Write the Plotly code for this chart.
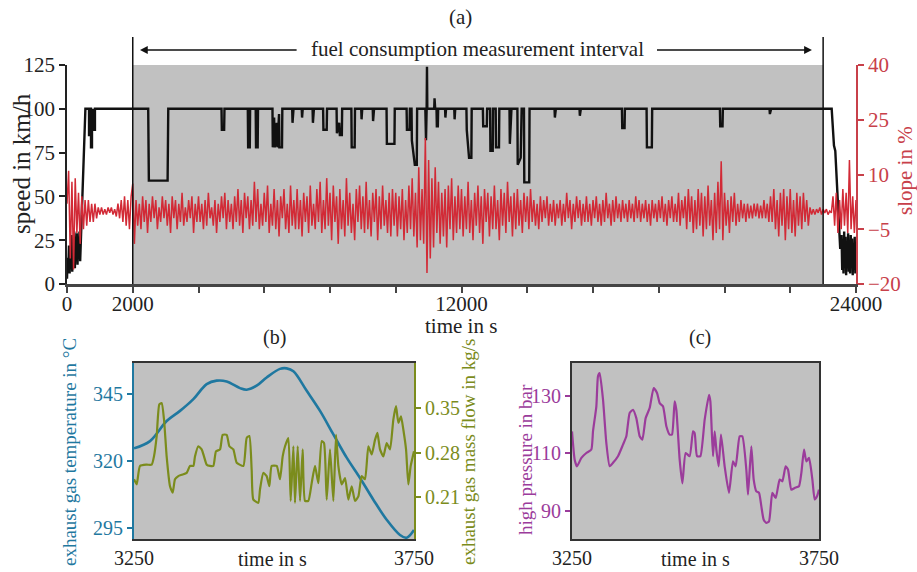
import plotly.graph_objects as go

W, H = 917, 572
FONT = "Liberation Serif, Times New Roman, DejaVu Serif, serif"

# ---------------- panel (a) data ----------------
speed_t = [
    0, 20, 40, 60, 80, 100, 120, 140, 160, 180, 200, 220, 240, 260, 280, 300, 320, 340, 360, 380, 400, 420,
    560, 670, 670, 700, 700, 730, 730, 760, 760, 800, 800, 820, 820, 850, 850,
    2470, 2490, 3060, 3080,
    4700, 4710, 4780, 4790,
    5500, 5510, 5560, 5570, 5740, 5750, 5800, 5810,
    6250, 6260, 6300, 6320, 6380, 6400, 6450, 6460, 6540, 6550,
    6850, 6860, 6890, 7140, 7150, 7170, 7470, 7480, 7510,
    7790, 7800, 7900, 7910,
    8200, 8210, 8280, 8300, 8360, 8370,
    8650, 8660, 8750, 8760,
    8950, 8960, 8980, 9300, 9310, 9340,
    9720, 9730, 9960, 9970,
    10330, 10340, 10420, 10430,
    10480, 10490, 10540, 10580, 10640, 10650,
    10900, 10920, 10940, 10950, 10960,
    11170, 11180, 11200, 11240, 11250, 11280, 11290,
    11500, 11510, 11530, 11780, 11790, 11810,
    12150, 12160, 12200, 12230, 12300, 12310,
    12650, 12660, 12770, 12780,
    12870, 12880, 12950, 12960, 13040, 13050, 13140, 13150,
    13460, 13470, 13520, 13700, 13710, 13800, 13830, 13900, 13910, 14060, 14070,
    14830, 14840, 14870, 15590, 15600, 15630,
    16880, 16890, 16960, 16970,
    17630, 17640, 17790, 17800,
    19860, 19870, 19940, 19950,
    21370, 21380, 21420,
    23260, 23330, 23370, 23420, 23480, 23520,
    23560, 23580, 23600, 23620, 23640, 23660, 23680, 23700, 23720, 23740, 23760, 23780,
    23800, 23820, 23840, 23860, 23880, 23900, 23920, 23940, 23960, 23980, 24000,
]
speed_kmh = [
    3, 15, 8, 22, 6, 18, 10, 28, 7, 25, 12, 30, 9, 27, 14, 29, 11, 26, 16, 30, 13, 24,
    100, 100, 85, 85, 100, 100, 78, 78, 88, 88, 100, 100, 88, 88, 100,
    100, 59, 59, 100,
    100, 88, 88, 100,
    100, 78, 78, 100, 100, 78, 78, 100,
    100, 78, 95, 78, 92, 78, 97, 78, 78, 100,
    100, 92, 100, 100, 95, 100, 100, 92, 100,
    100, 88, 88, 100,
    100, 86, 92, 85, 85, 100,
    100, 78, 78, 100,
    100, 94, 100, 100, 93, 100,
    100, 80, 80, 100,
    100, 88, 88, 100,
    100, 82, 75, 68, 68, 100,
    100, 82, 100, 124, 100,
    100, 106, 100, 100, 90, 90, 100,
    100, 95, 100, 100, 94, 100,
    100, 88, 80, 72, 72, 100,
    100, 90, 90, 100,
    100, 76, 76, 100, 100, 78, 78, 100,
    100, 80, 100, 100, 68, 72, 100, 100, 58, 58, 100,
    100, 95, 100, 100, 96, 100,
    100, 89, 89, 100,
    100, 78, 78, 100,
    100, 90, 90, 100,
    100, 97, 100,
    100, 79, 76, 59, 40, 20,
    28, 8, 25, 6, 30, 10, 27, 5, 22, 9, 29, 7,
    24, 6, 28, 11, 26, 5, 23, 8, 27, 6, 20,
]

slope_step_s = 50
slope_pct = [
    2, 11, -13, 8, -16, 9, -6, 5, -9, 4, -5, 3, -4, 3, -3, 2, -3, 2, -2, 1,
    -1, 1, -1, 0.5, -1, 1, -0.5, 1, -1, 0.5, -1.5, 2, -2, 3, -3, 4, -4, 3, -5, 4,
    7.5, -9, 3, -4, 2, -5, 4, -3, 3, -6, 2, -3, 4, -2, 3, -5, 1, -3, 4, -2,
    3, -4, 2, -6, 4, -2, 3, -5, 2, -3, 5, -4, 1, -3, 3, -2, 4, -6, 2, -3,
    4, -3, 2, -5, 3, -4, 5, -2, 1, -4, 3, -6, 2, -3, 4, -2, 5, -5, 3, -3,
    2, -5, 4, -3, 6, -4, 3, -6, 5, -2, 4, -5, 3, -4, 8, -3, 6, -5, 2, -4,
    5, -3, 7, -6, 2, -4, 6, -5, 3, -7, 4, -2, 6, -5, 2, -6, 7, -4, 3, -5,
    6, -5, 3, -7, 5, -3, 4, -6, 7, -4, 2, -5, 6, -3, 8, -6, 3, -5, 9, -4,
    5, -8, 7, -3, 4, -9, 6, -5, 3, -7, 9, -4, 5, -6, 2, -8, 6, -3, 7, -5,
    4, -6, 8, -5, 3, -7, 5, -3, 6, -8, 4, -5, 7, -4, 3, -6, 5, -7, 6, -4,
    5, -7, 4, -5, 6, -8, 3, -6, 7, -5, 9, -7, 5, -10, 12, -8, 6, -9, 20, -17,
    14, -13, 9, -10, 12, -6, 8, -9, 5, -7, 6, -10, 7, -5, 9, -8, 4, -6, 7, -5,
    6, -7, 4, -5, 8, -6, 3, -8, 5, -4, 7, -6, 4, -9, 6, -3, 5, -7, 4, -5,
    7, -5, 3, -8, 6, -4, 5, -6, 8, -3, 4, -7, 5, -5, 6, -4, 3, -6, 5, -3,
    4, -5, 6, -3, 3, -4, 2, -5, 4, -3, 3, -2, 4, -4, 2, -3, 3, -4, 2, -2,
    3, -4, 2, -3, 5, -2, 3, -5, 2, -3, 4, -2, 3, -4, 2, -3, 4, -3, 2, -4,
    3, -2, 4, -3, 2, -4, 3, -3, 5, -2, 2, -4, 3, -3, 4, -2, 2, -3, 3, -2,
    2, -3, 3, -2, 2, -3, 4, -2, 3, -3, 2, -2, 3, -3, 2, -4, 3, -2, 2, -3,
    3, -2, 4, -3, 2, -4, 3, -2, 4, -3, 2, -3, 5, -4, 3, -2, 4, -5, 6, -3,
    4, -6, 3, -5, 6, -4, 5, -7, 4, -5, 7, -4, 3, -8, 5, -6, 8, -5, 13.6, -8,
    5, -4, 3, -6, 4, -3, 5, -4, 2, -3, 3, -2, 2, -3, 2, -2, 1.5, -2, 2, -1.5,
    2, -2, 1.5, -2, 3, -2, 2, -3, 4, -3, 6, -5, 3, -7, 5, -4, 6, -8, 4, -5,
    6, -6, 3, -7, 5, -4, 4, -5, 5, -3, 3, -4, 1, -1, 0.5, -1, 0.5, -0.5, 1, -1,
    0.5, -0.5, 0.5, -1, 0, -0.5, 4, -4, 5, -6, 3, -5, 6, -4, 5, -6, 14, -5, 4, -6,
    3,
]
slope_t = [i * slope_step_s for i in range(len(slope_pct))]

x_ticks_a = [0, 2000, 4000, 6000, 8000, 10000, 12000, 14000, 16000, 18000, 20000, 22000, 24000]
x_ticktext_a = ["0", "2000", "", "", "", "", "12000", "", "", "", "", "", "24000"]
interval_start, interval_end = 2000, 23000

# ---------------- panel (b) data ----------------
temp_t = [3250, 3278.6, 3308.3, 3332.2, 3356, 3379.8, 3397.6, 3415.5, 3439.3, 3451.2, 3469,
          3486.9, 3510.7, 3522.6, 3534.6, 3558.4, 3582.2, 3606, 3629.8, 3653.6, 3677.4,
          3701.2, 3725, 3736.9, 3750]
temp_c = [324.8, 327.5, 335.0, 338.8, 343.2, 348.8, 350.1, 349.8, 347.3, 346.7, 348.2,
          351.3, 354.5, 354.7, 353.6, 346.3, 338.8, 330.0, 321.3, 313.7, 305.6,
          298.1, 292.4, 291.4, 294.3]

flow_t = [3250, 3254.8, 3260.7, 3272.6, 3281.6, 3285.7, 3290.5, 3295.2, 3299.4, 3303.6,
          3308.3, 3314.3, 3319.1, 3323.2, 3329.2, 3335.1, 3344.1, 3350, 3356, 3358.9,
          3364.9, 3370.8, 3375, 3379.8, 3385.7, 3391.7, 3396.4, 3403.6, 3408.3, 3415.5,
          3420.3, 3427.4, 3433.4, 3445.3, 3451.2, 3456, 3460.1, 3463.1, 3472, 3475,
          3481, 3486.9, 3491.7, 3495.9, 3504.8, 3510.7, 3515.5, 3519.7, 3525.6, 3529.8,
          3534.6, 3537.5, 3542.3, 3546.5, 3551.2, 3555.4, 3561.3, 3567.3, 3573.2, 3579.2,
          3585.2, 3589.3, 3594.1, 3600, 3606, 3610.8, 3614.9, 3620.9, 3626.8, 3632.8,
          3638.7, 3644.7, 3650.6, 3656.6, 3662.5, 3668.5, 3674.4, 3680.4, 3684.6, 3689.3,
          3695.3, 3701.2, 3707.2, 3713.1, 3717.9, 3722.1, 3726.8, 3731, 3735.8, 3739.9,
          3744.1, 3750]
flow_kgs = [0.238, 0.230, 0.259, 0.261, 0.261, 0.274, 0.306, 0.356, 0.358, 0.332,
            0.274, 0.227, 0.217, 0.238, 0.243, 0.245, 0.248, 0.259, 0.259, 0.274,
            0.290, 0.285, 0.274, 0.261, 0.259, 0.259, 0.282, 0.285, 0.308, 0.308,
            0.290, 0.285, 0.264, 0.259, 0.303, 0.306, 0.253, 0.206, 0.201, 0.222,
            0.248, 0.243, 0.227, 0.259, 0.259, 0.238, 0.274, 0.290, 0.303, 0.204,
            0.290, 0.201, 0.290, 0.204, 0.285, 0.204, 0.204, 0.232, 0.259, 0.232,
            0.298, 0.295, 0.206, 0.285, 0.204, 0.308, 0.259, 0.230, 0.240, 0.206,
            0.227, 0.204, 0.211, 0.243, 0.238, 0.290, 0.277, 0.300, 0.311, 0.285,
            0.274, 0.295, 0.285, 0.332, 0.353, 0.327, 0.337, 0.316, 0.285, 0.230,
            0.259, 0.282]

# ---------------- panel (c) data ----------------
press_t = [3250, 3255.4, 3260.1, 3269, 3279, 3289.1, 3292.5, 3299.3, 3302.6, 3306,
           3312.8, 3319.5, 3326.3, 3333, 3343.1, 3353.2, 3360, 3366.7, 3373.5, 3380.2,
           3387, 3392.4, 3399.1, 3407.2, 3415.3, 3422.1, 3427.5, 3434.2, 3441, 3447.7,
           3452.4, 3457.8, 3461.2, 3468, 3473.4, 3480.1, 3488.2, 3495, 3498.3, 3503.1,
           3509.8, 3518.6, 3527.4, 3530.1, 3535.4, 3538.8, 3542.2, 3546.9, 3551.6, 3559,
           3567.8, 3575.9, 3581.3, 3589.4, 3594.8, 3602.9, 3606.3, 3613, 3617.8, 3623.2,
           3628.6, 3633.3, 3638, 3643.4, 3648.8, 3655.5, 3662.3, 3670.4, 3675.8, 3682.5,
           3687.3, 3694, 3700.8, 3709.5, 3714.3, 3719.7, 3724.4, 3729.8, 3736.6, 3741.3,
           3746, 3750]
press_bar = [117.6, 107.8, 105.5, 108.4, 110.1, 111.3, 117.6, 126.3, 136.7, 137.8,
             128.6, 113.6, 105.5, 106.7, 109.0, 113.0, 115.9, 124.0, 125.1, 122.2,
             115.9, 114.7, 122.2, 125.7, 132.6, 130.9, 127.4, 126.3, 119.4, 116.5,
             116.5, 128.0, 125.1, 107.7, 99.6, 110.1, 109.0, 117.6, 117.0, 109.0,
             109.0, 121.7, 130.3, 128.0, 109.0, 117.6, 111.3, 105.5, 116.5, 105.5,
             96.3, 107.2, 105.5, 115.9, 115.9, 104.3, 95.7, 112.4, 100.9, 96.8,
             96.3, 91.6, 87.0, 85.9, 86.4, 96.3, 94.5, 100.9, 100.3, 105.5,
             104.3, 97.4, 98.0, 98.6, 103.2, 111.3, 107.2, 108.4, 100.9, 94.0,
             95.1, 97.4]

# ---------------- colours ----------------
BLACK = "#111111"
RED = "#d22a36"
RED_AX = "#c8404a"
TEAL = "#1f78a0"
OLIVE = "#7b8c1c"
PURPLE = "#9b3c9b"
GRAY = "#c1c1c1"
AXGRAY = "#444444"


def px_x(p):
    return p / W


def px_y(p):
    return 1 - p / H


fig = go.Figure()

fig.add_trace(go.Scatter(x=speed_t, y=speed_kmh, mode="lines", xaxis="x", yaxis="y",
                         line=dict(color=BLACK, width=2.4), showlegend=False))
fig.add_trace(go.Scatter(x=slope_t, y=slope_pct, mode="lines", xaxis="x", yaxis="y2",
                         line=dict(color=RED, width=1.5), showlegend=False))

fig.add_trace(go.Scatter(x=temp_t, y=temp_c, mode="lines", xaxis="x2", yaxis="y3",
                         line=dict(color=TEAL, width=2.6, shape="spline", smoothing=1.0),
                         showlegend=False))
fig.add_trace(go.Scatter(x=flow_t, y=flow_kgs, mode="lines", xaxis="x2", yaxis="y4",
                         line=dict(color=OLIVE, width=2.2, shape="spline", smoothing=0.5),
                         showlegend=False))

fig.add_trace(go.Scatter(x=press_t, y=press_bar, mode="lines", xaxis="x3", yaxis="y5",
                         line=dict(color=PURPLE, width=2.2, shape="spline", smoothing=0.5),
                         showlegend=False))

dom_ax = [px_x(67), px_x(856)]
dom_ay = [px_y(284), px_y(65)]
dom_bx = [px_x(134), px_x(414)]
dom_cx = [px_x(572), px_x(819)]
dom_by = [px_y(539), px_y(363)]

tick_a = dict(family=FONT, size=21, color="#222222")
tick_b = dict(family=FONT, size=20, color="#222222")

common = dict(showgrid=False, zeroline=False, automargin=False)

fig.update_layout(
    template="none",
    width=W, height=H,
    margin=dict(l=0, r=0, t=0, b=0, autoexpand=False),
    paper_bgcolor="white", plot_bgcolor="rgba(0,0,0,0)",
    font=dict(family=FONT, size=20, color="#222222"),
    showlegend=False,
    xaxis=dict(domain=dom_ax, range=[0, 24000], anchor="y",
               tickvals=x_ticks_a, ticktext=x_ticktext_a, tickfont=tick_a,
               ticks="outside", ticklen=6, tickwidth=1.5, tickcolor=AXGRAY,
               ticklabelstandoff=-7,
               showline=True, linecolor=AXGRAY, linewidth=3, **common),
    yaxis=dict(domain=dom_ay, range=[0, 125], anchor="x",
               tickvals=[0, 25, 50, 75, 100, 125], tickfont=tick_a,
               ticks="outside", ticklen=6, tickwidth=1.5, tickcolor="#222222",
               showline=True, linecolor="#222222", linewidth=1.5, **common),
    yaxis2=dict(range=[-20, 40], overlaying="y", side="right", anchor="x",
                tickvals=[-20, -5, 10, 25, 40], tickfont=dict(family=FONT, size=21, color=RED_AX),
                ticks="outside", ticklen=6, tickwidth=1.5, tickcolor=RED_AX,
                showline=True, linecolor=RED_AX, linewidth=1.5, **common),
    xaxis2=dict(domain=dom_bx, range=[3250, 3750], anchor="y3",
                tickvals=[3250, 3750], tickfont=tick_b, ticks="",
                showline=True, mirror=True, linecolor="#333333", linewidth=2, **common),
    yaxis3=dict(domain=dom_by, range=[290.9, 356.7], anchor="x2",
                tickvals=[295, 320, 345], tickfont=dict(family=FONT, size=20, color=TEAL),
                ticks="outside", ticklen=5, tickwidth=1.5, tickcolor=TEAL,
                showline=True, linecolor=TEAL, linewidth=2, **common),
    yaxis4=dict(range=[0.144, 0.421], overlaying="y3", side="right", anchor="x2",
                tickvals=[0.21, 0.28, 0.35], ticktext=["0.21", "0.28", "0.35"],
                tickfont=dict(family=FONT, size=20, color=OLIVE),
                ticks="outside", ticklen=5, tickwidth=1.5, tickcolor=OLIVE,
                showline=True, linecolor=OLIVE, linewidth=2, **common),
    xaxis3=dict(domain=dom_cx, range=[3250, 3750], anchor="y5",
                tickvals=[3250, 3750], tickfont=tick_b, ticks="",
                showline=True, mirror=True, linecolor="#333333", linewidth=2, **common),
    yaxis5=dict(domain=dom_by, range=[80.3, 141.3], anchor="x3",
                tickvals=[90, 110, 130], tickfont=dict(family=FONT, size=20, color=PURPLE),
                ticks="outside", ticklen=5, tickwidth=1.5, tickcolor=PURPLE,
                showline=True, mirror=True, linecolor="#333333", linewidth=2, **common),
)

shapes = [
    dict(type="rect", xref="x", yref="y", x0=interval_start, x1=interval_end, y0=0, y1=125,
         fillcolor=GRAY, line=dict(width=0), layer="below"),
    dict(type="line", xref="x", yref="paper", x0=interval_start, x1=interval_start,
         y0=px_y(284), y1=px_y(37), line=dict(color=BLACK, width=1.5), layer="above"),
    dict(type="line", xref="x", yref="paper", x0=interval_end, x1=interval_end,
         y0=px_y(284), y1=px_y(37), line=dict(color=BLACK, width=1.5), layer="above"),
    dict(type="rect", xref="x2 domain", yref="y3 domain", x0=0, x1=1, y0=0, y1=1,
         fillcolor=GRAY, line=dict(width=0), layer="below"),
    dict(type="rect", xref="x3 domain", yref="y5 domain", x0=0, x1=1, y0=0, y1=1,
         fillcolor=GRAY, line=dict(width=0), layer="below"),
]
fig.update_layout(shapes=shapes)

ann = []


def txt(text, xp, yp, size=21, color="#222222", angle=0):
    ann.append(dict(text=text, x=px_x(xp), y=px_y(yp), xref="paper", yref="paper",
                    showarrow=False, textangle=angle, xanchor="center", yanchor="middle",
                    font=dict(family=FONT, size=size, color=color)))


txt("(a)", 460, 17, 21)
txt("fuel consumption measurement interval", 478, 49, 21)
txt("time in s", 461, 326, 21)
txt("speed in km/h", 22, 164, 25, "#222222", -90)
txt("slope in %", 905, 171, 21, RED_AX, -90)
txt("(b)", 274, 337, 20)
txt("(c)", 700, 337, 20)
txt("time in s", 272, 559, 20)
txt("time in s", 695, 559, 20)
txt("exhaust gas temperature in °C", 69, 452, 19, TEAL, -90)
txt("exhaust gas mass flow in kg/s", 468, 452, 19, OLIVE, -90)
txt("high pressure in bar", 525, 460, 19, PURPLE, -90)

# arrows of the measurement interval
ann.append(dict(x=2220, y=px_y(50), xref="x", yref="paper", ax=7030, ay=0, axref="x",
                ayref="pixel", showarrow=True, arrowhead=2, arrowsize=1.2, arrowwidth=1.3,
                arrowcolor=BLACK, text=""))
ann.append(dict(x=22660, y=px_y(50), xref="x", yref="paper", ax=17900, ay=0, axref="x",
                ayref="pixel", showarrow=True, arrowhead=2, arrowsize=1.2, arrowwidth=1.3,
                arrowcolor=BLACK, text=""))
fig.update_layout(annotations=ann)

fig.write_html("out.html",
               config={"displayModeBar": False},
               post_script="document.body.style.margin='0';document.body.style.overflow='hidden';")
